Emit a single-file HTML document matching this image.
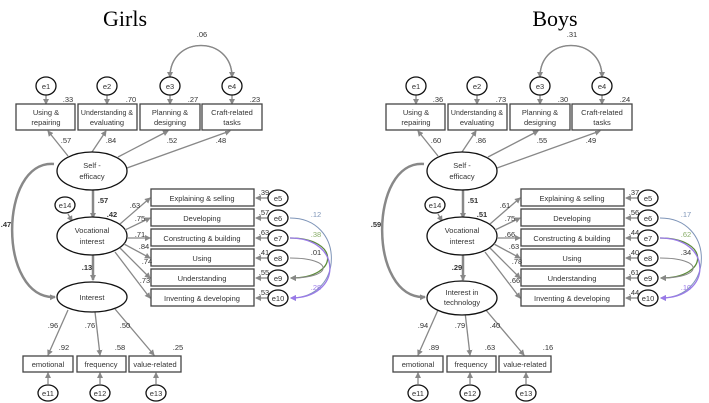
<!DOCTYPE html>
<html><head><meta charset="utf-8"><style>
body{margin:0;background:#fff}
svg{display:block}
text{font-family:"Liberation Sans",sans-serif;font-size:7.5px;fill:#333;text-anchor:middle}
.v{font-size:7px;fill:#555}
.b{font-weight:bold;fill:#222}
.t{font-family:"Liberation Serif",serif;font-size:22px;fill:#000}
.box{fill:#fff;stroke:#444;stroke-width:1.3}
.el{fill:#fff;stroke:#111;stroke-width:1.3}
.ar{stroke:#888;stroke-width:1.3;fill:none;marker-end:url(#a)}
.ar2{stroke:#888;stroke-width:2.5;fill:none;marker-end:url(#a)}
</style></head><body>
<svg width="709" height="403" viewBox="0 0 709 403" xmlns="http://www.w3.org/2000/svg">
<defs>
<marker id="a" markerWidth="6" markerHeight="6" refX="5" refY="3" orient="auto" markerUnits="userSpaceOnUse"><path d="M0,0L6,3L0,6z" fill="#888"/></marker>
<marker id="ab" markerWidth="6" markerHeight="6" refX="5" refY="3" orient="auto" markerUnits="userSpaceOnUse"><path d="M0,0L6,3L0,6z" fill="#7f95b8"/></marker>
<marker id="ag" markerWidth="6" markerHeight="6" refX="5" refY="3" orient="auto" markerUnits="userSpaceOnUse"><path d="M0,0L6,3L0,6z" fill="#5b8a3a"/></marker>
<marker id="ap" markerWidth="6" markerHeight="6" refX="5" refY="3" orient="auto" markerUnits="userSpaceOnUse"><path d="M0,0L6,3L0,6z" fill="#9a7ae8"/></marker>
<g id="P">
<g class="ar">
<line x1="46" y1="95" x2="46" y2="104"/><line x1="107" y1="95" x2="107" y2="104"/>
<line x1="170" y1="95" x2="170" y2="104"/><line x1="232" y1="95" x2="232" y2="104"/>
<path d="M170,77 C170,35 232,35 232,77"/>
</g>
<path d="M232,77 C232,35 170,35 170,77" class="ar"/>
<g class="el"><ellipse cx="46" cy="86" rx="10" ry="9"/><ellipse cx="107" cy="86" rx="10" ry="9"/><ellipse cx="170" cy="86" rx="10" ry="9"/><ellipse cx="232" cy="86" rx="10" ry="9"/></g>
<text x="46" y="89">e1</text><text x="107" y="89">e2</text><text x="170" y="89">e3</text><text x="232" y="89">e4</text>
<g class="box"><rect x="16" y="104" width="59" height="26"/><rect x="78" y="104" width="59" height="26"/><rect x="140" y="104" width="60" height="26"/><rect x="202" y="104" width="60" height="26"/></g>
<text x="46" y="115">Using &amp;</text><text x="46" y="125">repairing</text>
<text x="107" y="115" style="font-size:7px">Understanding &amp;</text><text x="107" y="125">evaluating</text>
<text x="170" y="115">Planning &amp;</text><text x="170" y="125">designing</text>
<text x="232" y="115">Craft-related</text><text x="232" y="125">tasks</text>
<g class="ar"><line x1="68" y1="156" x2="48" y2="131"/><line x1="92" y1="152" x2="106" y2="131"/><line x1="118" y1="157" x2="168" y2="131"/><line x1="127" y1="168" x2="230" y2="131"/></g>
<path d="M54,164 C-2,160 -2,300 55,297" class="ar2"/>
<line x1="93" y1="190" x2="93" y2="218" class="ar2"/>
<line x1="93" y1="255" x2="93" y2="280" class="ar2"/>
<line x1="68" y1="214" x2="72" y2="221" class="ar"/>
<ellipse cx="92" cy="171" rx="35" ry="19" class="el"/>
<ellipse cx="65" cy="205" rx="10" ry="8" class="el"/><text x="65" y="208">e14</text>
<ellipse cx="92" cy="236" rx="35" ry="19" class="el"/>
<text x="92" y="233">Vocational</text><text x="92" y="244">interest</text>
<g class="ar">
<line x1="120" y1="224" x2="150" y2="198"/><line x1="125" y1="230" x2="150" y2="218"/><line x1="127" y1="238" x2="150" y2="238"/>
<line x1="124" y1="244" x2="150" y2="258"/><line x1="120" y1="248" x2="150" y2="278"/><line x1="115" y1="252" x2="150" y2="298"/>
<line x1="268" y1="198" x2="256" y2="198"/><line x1="268" y1="218" x2="256" y2="218"/><line x1="268" y1="238" x2="256" y2="238"/>
<line x1="268" y1="258" x2="256" y2="258"/><line x1="268" y1="278" x2="256" y2="278"/><line x1="268" y1="298" x2="256" y2="298"/>
</g>
<g class="box"><rect x="151" y="189" width="103" height="17"/><rect x="151" y="209" width="103" height="17"/><rect x="151" y="229" width="103" height="17"/><rect x="151" y="249" width="103" height="17"/><rect x="151" y="269" width="103" height="17"/><rect x="151" y="289" width="103" height="17"/></g>
<text x="202" y="201">Explaining &amp; selling</text><text x="202" y="221">Developing</text><text x="202" y="241">Constructing &amp; building</text>
<text x="202" y="261">Using</text><text x="202" y="281">Understanding</text><text x="202" y="301">Inventing &amp; developing</text>
<g class="el"><ellipse cx="278" cy="198" rx="10" ry="8"/><ellipse cx="278" cy="218" rx="10" ry="8"/><ellipse cx="278" cy="238" rx="10" ry="8"/><ellipse cx="278" cy="258" rx="10" ry="8"/><ellipse cx="278" cy="278" rx="10" ry="8"/><ellipse cx="278" cy="298" rx="10" ry="8"/></g>
<text x="278" y="201">e5</text><text x="278" y="221">e6</text><text x="278" y="241">e7</text><text x="278" y="261">e8</text><text x="278" y="281">e9</text><text x="278" y="301">e10</text>
<path d="M290,218 C345,218 345,298 291,298" stroke="#7f95b8" fill="none" stroke-width="1" marker-end="url(#ab)"/>
<path d="M290,238 C340,238 340,278 291,278" stroke="#5b8a3a" fill="none" stroke-width="1.3" marker-end="url(#ag)"/>
<path d="M290,258 C334,258 334,278 291,278" stroke="#888" fill="none" stroke-width="1" marker-end="url(#a)"/>
<path d="M290,238 C343,238 343,298 291,298" stroke="#9a7ae8" fill="none" stroke-width="1.3" marker-end="url(#ap)"/>
<g class="ar"><line x1="68" y1="310" x2="48" y2="355"/><line x1="95" y1="312" x2="100" y2="355"/><line x1="115" y1="309" x2="154" y2="355"/>
<line x1="48" y1="384" x2="48" y2="373"/><line x1="100" y1="384" x2="100" y2="373"/><line x1="156" y1="384" x2="156" y2="373"/></g>
<g class="box"><rect x="23" y="356" width="50" height="16"/><rect x="77" y="356" width="49" height="16"/><rect x="129" y="356" width="52" height="16"/></g>
<text x="48" y="367">emotional</text><text x="101" y="367">frequency</text><text x="155" y="367">value-related</text>
<g class="el"><ellipse cx="48" cy="393" rx="10" ry="8"/><ellipse cx="100" cy="393" rx="10" ry="8"/><ellipse cx="156" cy="393" rx="10" ry="8"/></g>
<text x="48" y="396">e11</text><text x="100" y="396">e12</text><text x="156" y="396">e13</text>
</g>
</defs>
<text class="t" x="125" y="26">Girls</text>
<text class="t" x="555" y="26">Boys</text>
<use href="#P"/>
<use href="#P" transform="translate(370,0)"/>
<ellipse cx="92" cy="297" rx="35" ry="15" class="el"/>
<ellipse cx="462" cy="298" rx="35" ry="17" class="el"/>
<text x="92" y="168">Self -</text><text x="92" y="179">efficacy</text>
<text x="92" y="300">Interest</text>
<g class="v">
<text x="68" y="102">.33</text><text x="131" y="102">.70</text><text x="193" y="102">.27</text><text x="255" y="102">.23</text>
<text x="202" y="37">.06</text>
<text x="66" y="143">.57</text><text x="111" y="143">.84</text><text x="172" y="143">.52</text><text x="221" y="143">.48</text>
<text x="135" y="208">.63</text><text x="140" y="221">.75</text><text x="140" y="237">.71</text><text x="144" y="249">.84</text><text x="147" y="264">.74</text><text x="145" y="283">.73</text>
<text x="264" y="195">.39</text><text x="264" y="215">.57</text><text x="264" y="235">.63</text><text x="264" y="255">.41</text><text x="264" y="275">.55</text><text x="264" y="295">.53</text>
<text x="316" y="217" style="fill:#7f95b8">.12</text><text x="316" y="237" style="fill:#8aae6a">.38</text><text x="316" y="255">.01</text><text x="316" y="290" style="fill:#9a7ae8">.28</text>
<text x="53" y="328">.96</text><text x="90" y="328">.76</text><text x="125" y="328">.50</text>
<text x="64" y="350">.92</text><text x="120" y="350">.58</text><text x="178" y="350">.25</text>
</g>
<g class="v b" style="font-size:8px"><text x="6" y="227">.47</text><text x="103" y="203">.57</text><text x="112" y="217">.42</text><text x="87" y="270">.13</text></g>
<text x="462" y="168">Self -</text><text x="462" y="179">efficacy</text>
<text x="462" y="295">Interest in</text><text x="462" y="305">technology</text>
<g class="v">
<text x="438" y="102">.36</text><text x="501" y="102">.73</text><text x="563" y="102">.30</text><text x="625" y="102">.24</text>
<text x="572" y="37">.31</text>
<text x="436" y="143">.60</text><text x="481" y="143">.86</text><text x="542" y="143">.55</text><text x="591" y="143">.49</text>
<text x="505" y="208">.61</text><text x="510" y="221">.75</text><text x="510" y="237">.66</text><text x="514" y="249">.63</text><text x="517" y="264">.78</text><text x="515" y="283">.66</text>
<text x="634" y="195">.37</text><text x="634" y="215">.56</text><text x="634" y="235">.44</text><text x="634" y="255">.40</text><text x="634" y="275">.61</text><text x="634" y="295">.44</text>
<text x="686" y="217" style="fill:#7f95b8">.17</text><text x="686" y="237" style="fill:#8aae6a">.62</text><text x="686" y="255">.34</text><text x="686" y="290" style="fill:#9a7ae8">.10</text>
<text x="423" y="328">.94</text><text x="460" y="328">.79</text><text x="495" y="328">.40</text>
<text x="434" y="350">.89</text><text x="490" y="350">.63</text><text x="548" y="350">.16</text>
</g>
<g class="v b" style="font-size:8px"><text x="376" y="227">.59</text><text x="473" y="203">.51</text><text x="482" y="217">.51</text><text x="457" y="270">.29</text></g>
</svg>
</body></html>
